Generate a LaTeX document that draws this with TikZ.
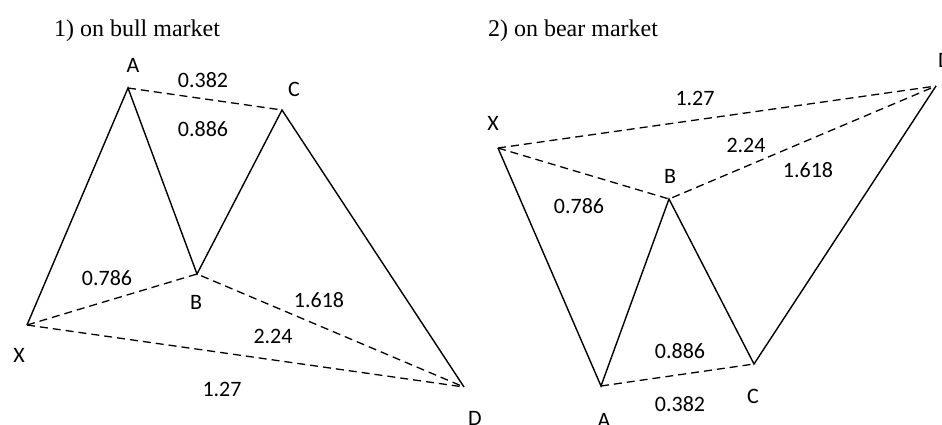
\documentclass[tikz,border=0pt]{standalone}
\usepackage{fontspec}
\setmainfont{Liberation Serif}
\newfontfamily\lblfont{Carlito}
\usetikzlibrary{calc}

\begin{document}
\begin{tikzpicture}[x=1pt,y=-1pt,
  every node/.style={font=\lblfont\fontsize{22}{26}\selectfont,inner sep=0pt},
  title/.style={font=\rmfamily\fontsize{24}{28}\selectfont,anchor=base},
  leg/.style={line width=1.4pt,line join=miter},
  ratio/.style={line width=1.3pt,dash pattern=on 8pt off 5pt}]
  \useasboundingbox (0,0) rectangle (942,424);
  % 1) bull market
  \node[title] (tbull) at (137,36) {\rmfamily 1) on bull market};
  \coordinate (X1) at (27,325);
  \coordinate (A1) at (128,88);
  \coordinate (B1) at (197,274);
  \coordinate (C1) at (282,110);
  \coordinate (D1) at (464,387);
  \draw[leg] (X1) -- (A1) -- (B1) -- (C1) -- (D1);
  \draw[ratio] (A1) -- (C1);
  \draw[ratio] (X1) -- (B1) -- (D1);
  \draw[ratio] (X1) -- (D1);
  \node (lA1) at (133,65) {A};
  \node (lB1) at (196,302) {B};
  \node (lC1) at (294,89) {C};
  \node (lD1) at (475,418) {D};
  \node (lX1) at (19,355) {X};
  \node (r1a) at (203,80) {0.382};
  \node (r1b) at (203,129) {0.886};
  \node (r1c) at (107,278) {0.786};
  \node (r1d) at (319,300) {1.618};
  \node (r1e) at (273,336) {2.24};
  \node (r1f) at (222,389) {1.27};
  % 2) bear market
  \node[title] (tbear) at (573,36) {\rmfamily 2) on bear market};
  \coordinate (X2) at (498,148);
  \coordinate (A2) at (601,386);
  \coordinate (B2) at (669,199);
  \coordinate (C2) at (754,364);
  \coordinate (D2) at (936,86);
  \draw[leg] (X2) -- (A2) -- (B2) -- (C2) -- (D2);
  \draw[ratio] (A2) -- (C2);
  \draw[ratio] (X2) -- (B2) -- (D2);
  \draw[ratio] (X2) -- (D2);
  \node (lA2) at (604,420) {A};
  \node (lB2) at (670,176) {B};
  \node (lC2) at (753,396) {C};
  \node (lD2) at (945,60) {D};
  \node (lX2) at (493,123) {X};
  \node (r2a) at (680,404) {0.382};
  \node (r2b) at (680,351) {0.886};
  \node (r2c) at (579,206) {0.786};
  \node (r2d) at (808,170) {1.618};
  \node (r2e) at (746,145) {2.24};
  \node (r2f) at (695,98) {1.27};
\end{tikzpicture}
\end{document}
